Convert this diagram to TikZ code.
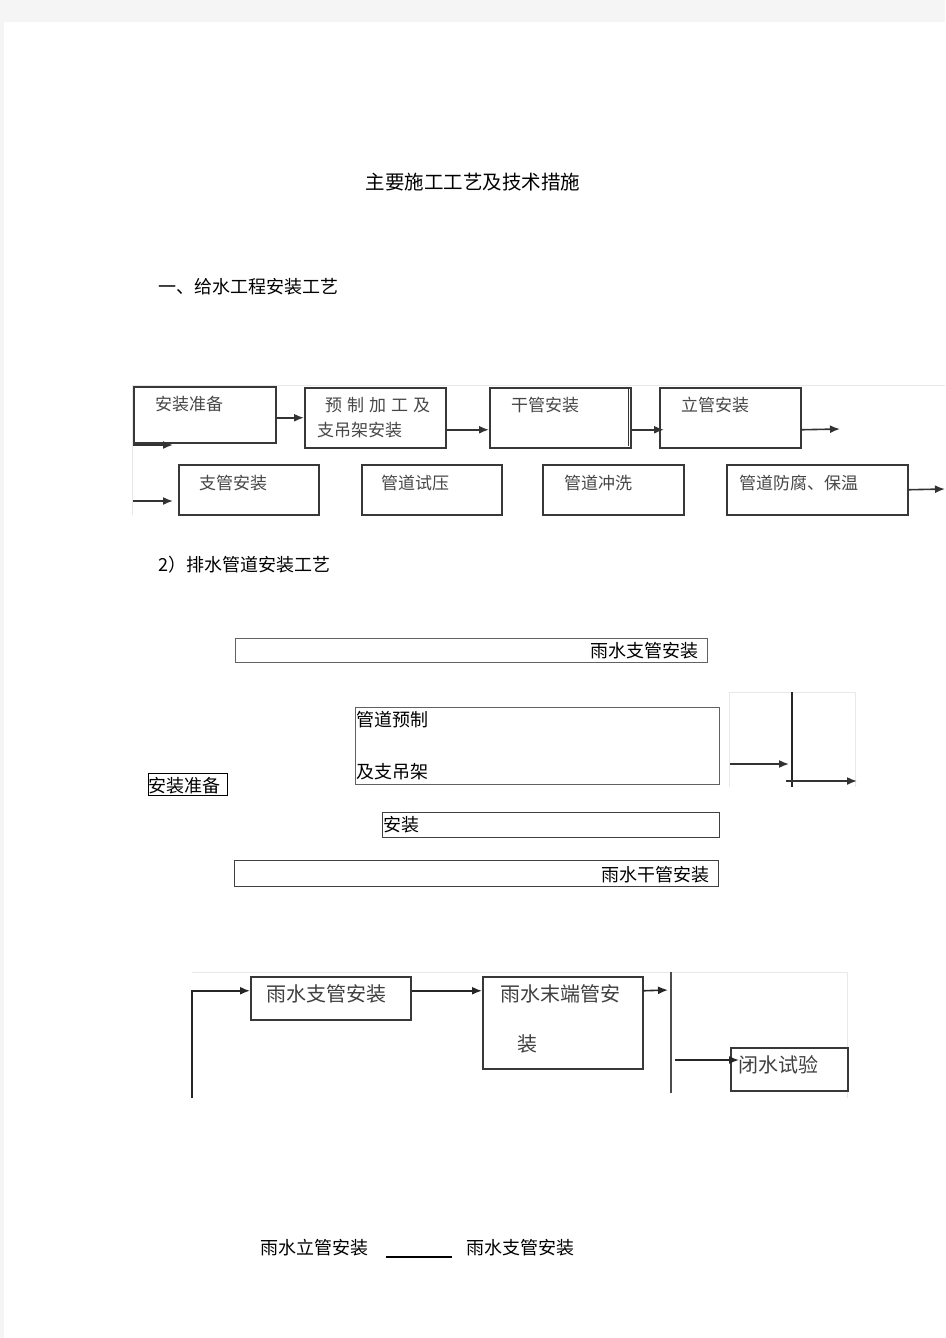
\documentclass[tikz,border=0pt]{standalone}
\usepackage{fontspec}
\setmainfont{Noto Sans CJK SC}
\usetikzlibrary{arrows.meta}
\begin{document}
\begin{tikzpicture}[x=1pt,y=-1pt,
  frame/.style={draw=black!9, line width=0.8pt},
  boxa/.style={draw=black!78, line width=1.5pt, anchor=north west, inner sep=0pt},
  boxb/.style={draw=black!62, line width=0.9pt, anchor=north west, inner sep=0pt},
  boxc/.style={draw=black!78, line width=1.5pt, anchor=north west, inner sep=0pt},
  ta/.style={anchor=west, inner sep=0pt, text=black!72, font=\fontsize{17}{17}\selectfont},
  tb/.style={anchor=west, inner sep=0pt, text=black, font=\fontsize{18}{18}\selectfont},
  tc/.style={anchor=west, inner sep=0pt, text=black!75, font=\fontsize{20}{20}\selectfont},
  arra/.style={draw=black!80, line width=1.6pt, -{Latex[length=10pt,width=8pt]}},
  arrc/.style={draw=black!85, line width=1.6pt, -{Latex[length=10pt,width=8pt]}},
  plain/.style={draw=black!85, line width=1.4pt}
]
% page background
\fill[black!4] (0,0) rectangle (945,1338);
\fill[white] (4,22) rectangle (945,1338);
\useasboundingbox (0,0) rectangle (945,1338);

% headings
\node[anchor=center, inner sep=0pt, font=\fontsize{19.5}{20}\selectfont] (title) at (473,182) {主要施工工艺及技术措施};
\node[anchor=west, inner sep=0pt, font=\fontsize{18}{18}\selectfont] (h1) at (158,287) {一、给水工程安装工艺};
\node[anchor=west, inner sep=0pt, font=\fontsize{18}{18}\selectfont] (h2) at (158,565) {2）排水管道安装工艺};

% ---------- diagram 1 ----------
\draw[frame] (132,515) -- (132,385) -- (945,385);
\node[boxa, minimum width=142pt, minimum height=56pt] (b1) at (133,386) {};
\node[boxa, minimum width=141pt, minimum height=60pt] (b2) at (304,387) {};
\node[boxa, minimum width=141pt, minimum height=60pt] (b3) at (489,387) {};
\node[boxa, minimum width=141pt, minimum height=60pt] (b4) at (659,387) {};
\node[boxa, minimum width=140pt, minimum height=50pt] (b5) at (178,464) {};
\node[boxa, minimum width=140pt, minimum height=50pt] (b6) at (361,464) {};
\node[boxa, minimum width=141pt, minimum height=50pt] (b7) at (542,464) {};
\node[boxa, minimum width=181pt, minimum height=50pt] (b8) at (726,464) {};
\draw[black!80, line width=1.5pt] (628.5,388) -- (628.5,446);

\node[ta] (b1t) at (155,404) {安装准备};
\node[ta] (b2t) at (325,405) {预\hspace{5pt}制\hspace{5pt}加\hspace{5pt}工\hspace{5pt}及};
\node[ta] (b2u) at (317,430) {支吊架安装};
\node[ta] (b3t) at (511,405) {干管安装};
\node[ta] (b4t) at (681,405) {立管安装};
\node[ta] (b5t) at (199,483) {支管安装};
\node[ta] (b6t) at (381,483) {管道试压};
\node[ta] (b7t) at (564,483) {管道冲洗};
\node[ta] (b8t) at (739,483) {管道防腐、保温};

\coordinate (a2) at ([yshift=-12pt]b2.east);
\coordinate (a3) at ([yshift=-12pt]b3.east);
\coordinate (a4) at ([yshift=-12pt]b4.east);
\coordinate (e4) at (840,429);
\coordinate (s1) at (133,445);
\coordinate (f1) at (173,445);
\coordinate (s2) at (133,501);
\coordinate (f2) at (173,501);
\coordinate (e8) at (945,489);
\draw[arra] (b1.east |- b2.west) -- (b2.west);
\draw[arra] (a2) -- (b3.west |- a2);
\draw[arra] (a3) -- ([xshift=5pt]b4.west |- a3);
\draw[arra] (a4) -- (e4);
\draw[arra] (s1) -- (f1);
\draw[arra] (s2) -- (f2);
\draw[arra] (b8.east) -- (e8);

% ---------- diagram 2 ----------
\node[boxb, minimum width=472pt, minimum height=24pt] (d1) at (235,638) {};
\node[boxb, minimum width=364pt, minimum height=77pt] (d2) at (355,707) {};
\node[boxb, draw=black, minimum width=79pt, minimum height=22pt] (d3) at (148,773) {};
\node[boxb, draw=black!75, minimum width=337pt, minimum height=25pt] (d4) at (382,812) {};
\node[boxb, draw=black!75, minimum width=484pt, minimum height=26pt] (d5) at (234,860) {};
\node[tb, anchor=east] (d1t) at (699,651) {雨水支管安装};
\node[tb] (d2t) at (356,720) {管道预制};
\node[tb] (d2u) at (356,772) {及支吊架};
\node[tb] (d3t) at (148,786) {安装准备};
\node[tb] (d4t) at (383,825) {安装};
\node[tb, anchor=east] (d5t) at (710,875) {雨水干管安装};

\draw[frame] (729,787) -- (729,692) -- (855,692) -- (855,787);
\coordinate (g1) at (792,692);
\coordinate (g2) at (792,787);
\coordinate (g3) at (730,764);
\coordinate (g4) at (789,764);
\coordinate (g5) at (786,781);
\coordinate (g6) at (857,781);
\draw[plain, line width=1.2pt] (g1) -- (g2);
\draw[arra] (g3) -- (g4);
\draw[arra] (g5) -- (g6);

% ---------- diagram 3 ----------
\draw[frame] (192,972) -- (847,972) -- (847,1098);
\node[boxc, minimum width=160pt, minimum height=43pt] (c1) at (250,976) {};
\node[boxc, minimum width=160pt, minimum height=92pt] (c2) at (482,976) {};
\node[boxc, minimum width=117pt, minimum height=43pt] (c3) at (730,1047) {};
\node[tc] (c1t) at (266,994) {雨水支管安装};
\node[tc] (c2t) at (500,994) {雨水末端管安};
\node[tc] (c2u) at (517,1044) {装};
\node[tc] (c3t) at (738,1065) {闭水试验};

\coordinate (r1) at (192,1098);
\coordinate (p1) at ([yshift=7.5pt]c1.west);
\coordinate (p2) at ([yshift=7.5pt]c1.east);
\coordinate (p3) at (c2.east |- p2);
\coordinate (r2) at (668,990);
\coordinate (v1) at (671,972);
\coordinate (v2) at (671,1093);
\coordinate (r3) at (675,1060);
\draw[arrc] (r1) |- (p1);
\draw[arrc] (p2) -- (c2.west |- p2);
\draw[arrc] (p3) -- (r2);
\draw[draw=black!70, line width=1.2pt] (v1) -- (v2);
\draw[arrc] (r3) -- ([xshift=9pt]c3.west |- r3);

% ---------- bottom line ----------
\node[tb] (k1) at (260,1248) {雨水立管安装};
\node[tb] (k2) at (466,1248) {雨水支管安装};
\coordinate (k3) at (386,1257);
\coordinate (k4) at (452,1257);
\draw[black, line width=1.3pt] (k3) -- (k4);
\end{tikzpicture}
\end{document}
